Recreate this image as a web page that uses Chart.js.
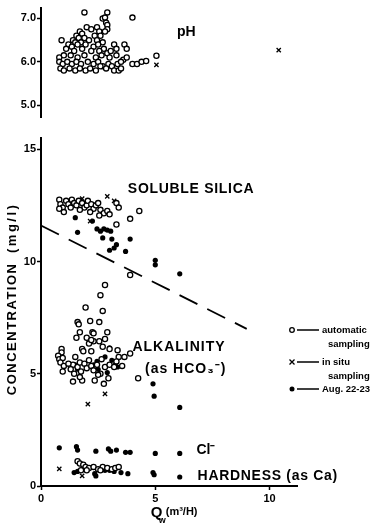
<!DOCTYPE html>
<html>
<head>
<meta charset="utf-8">
<script src="https://cdn.jsdelivr.net/npm/chart.js@4.4.1/dist/chart.umd.min.js"></script>
<style>
  body { margin: 0; background: #fff; }
  #wrap { position: relative; width: 370px; height: 525px; }
  #phChart { position: absolute; left: 0; top: 0; }
  #concChart { position: absolute; left: 0; top: 125px; }
</style>
</head>
<body>
<div id="wrap">
  <canvas id="phChart" width="370" height="125"></canvas>
  <canvas id="concChart" width="370" height="400"></canvas>
</div>
<script>
// ---- data: [Qw, value] ----
const xTicks = [0, 5, 10];
const phTicks = [5.0, 6.0, 7.0];
const concTicks = [0, 5, 10, 15];

const phAuto = [
  [1.9, 7.14], [2.9, 7.14], [4.0, 7.02], [2.7, 7.0], [2.8, 7.02], [2.85, 6.9], [2.9, 6.85], [2.9, 6.75], [2.8, 6.7],
  [2.0, 6.8], [2.2, 6.75], [2.45, 6.8], [1.7, 6.7], [1.8, 6.65], [2.55, 6.7], [1.55, 6.6], [1.65, 6.55], [1.9, 6.55],
  [2.35, 6.6], [2.6, 6.6], [1.4, 6.5], [1.5, 6.45], [1.75, 6.45], [2.1, 6.5], [2.45, 6.5], [2.7, 6.45], [0.9, 6.5],
  [1.2, 6.4], [1.35, 6.35], [1.6, 6.4], [1.95, 6.4], [2.3, 6.35], [2.5, 6.4], [2.75, 6.3], [3.2, 6.4], [3.3, 6.3],
  [3.65, 6.4], [3.75, 6.3], [1.1, 6.3], [1.45, 6.25], [1.8, 6.3], [2.2, 6.25], [2.55, 6.25], [2.9, 6.2], [3.05, 6.25],
  [0.8, 6.1], [1.0, 6.15], [1.3, 6.15], [1.6, 6.1], [1.9, 6.15], [2.4, 6.1], [2.65, 6.15], [3.0, 6.1], [3.3, 6.15],
  [3.6, 6.05], [3.75, 6.1], [0.8, 6.0], [0.95, 5.95], [1.15, 6.0], [1.35, 5.95], [1.55, 6.0], [1.75, 5.95], [2.05, 6.0],
  [2.3, 5.95], [2.5, 6.0], [2.7, 5.9], [2.95, 5.95], [3.1, 5.9], [3.35, 5.95], [3.5, 6.0], [0.85, 5.85], [1.0, 5.8],
  [1.25, 5.85], [1.5, 5.8], [1.7, 5.85], [1.95, 5.8], [2.15, 5.85], [2.4, 5.8], [2.6, 5.9], [2.85, 5.85], [3.2, 5.8],
  [3.4, 5.8], [3.5, 5.85], [4.0, 5.95], [4.2, 5.95], [4.4, 6.0], [4.6, 6.02], [5.05, 6.14]
];
const phSitu = [[5.05, 5.93], [10.4, 6.27]];

const silicaAuto = [
  [0.8, 12.75], [0.85, 12.55], [0.95, 12.4], [0.8, 12.35], [1.1, 12.7], [1.2, 12.55], [1.35, 12.75], [1.45, 12.6],
  [1.55, 12.5], [1.65, 12.7], [1.8, 12.6], [1.9, 12.4], [2.0, 12.5], [2.05, 12.7], [2.2, 12.55], [2.3, 12.35],
  [2.4, 12.5], [2.5, 12.6], [1.7, 12.3], [1.3, 12.4], [2.6, 12.3], [2.75, 12.15], [2.9, 12.25], [3.0, 12.1],
  [2.55, 12.05], [3.3, 12.6], [3.4, 12.4], [4.3, 12.25], [3.9, 11.9], [3.3, 11.65], [2.15, 12.2], [1.0, 12.2], [3.9, 9.4]
];
const silicaSitu = [[2.9, 12.9], [1.8, 12.8], [3.2, 12.7], [2.15, 11.8]];
const silicaAug = [
  [1.5, 11.95], [1.6, 11.3], [2.25, 11.8], [2.45, 11.45], [2.6, 11.35], [2.75, 11.45], [2.9, 11.4], [3.05, 11.35],
  [2.7, 11.05], [3.1, 11.0], [3.9, 11.0], [3.3, 10.75], [3.2, 10.6], [3.0, 10.5], [3.7, 10.45], [5.0, 10.05],
  [5.0, 9.85], [6.07, 9.45]
];
const silicaTrend = [[0, 11.6], [9.0, 7.0]];

const alkAuto = [
  [2.8, 8.95], [2.6, 8.5], [2.7, 7.8], [1.95, 7.95], [2.15, 7.35], [1.6, 7.3], [1.65, 7.2], [2.55, 7.3], [1.7, 6.85],
  [2.9, 6.85], [2.25, 6.85], [2.3, 6.8], [1.55, 6.6], [2.0, 6.6], [2.8, 6.55], [2.3, 6.45], [2.55, 6.45], [2.1, 6.35],
  [2.2, 6.5], [1.8, 6.1], [2.2, 6.0], [2.7, 6.2], [3.0, 6.1], [3.35, 6.05], [0.9, 6.1], [0.9, 5.95],
  [0.75, 5.8], [0.8, 5.65], [0.95, 5.7], [0.85, 5.5], [1.0, 5.35], [0.95, 5.1], [1.5, 5.75], [1.85, 6.0], [1.4, 5.4],
  [1.3, 5.2], [1.45, 5.0], [1.6, 5.3], [1.7, 5.5], [1.9, 5.45], [1.75, 5.1], [2.0, 5.25], [2.2, 5.35], [2.1, 5.6],
  [2.3, 5.15], [2.45, 5.4], [2.6, 5.0], [2.8, 5.3], [3.0, 5.4], [3.2, 5.3], [3.4, 5.75], [3.65, 5.75], [3.9, 5.9],
  [3.55, 5.35], [1.4, 4.65], [1.8, 4.7], [2.35, 4.7], [2.75, 4.55], [2.95, 4.8], [4.25, 4.8], [1.7, 4.85], [2.5, 4.95],
  [3.3, 5.55], [1.2, 5.45], [2.65, 5.65]
];
const alkSitu = [[2.8, 4.1], [2.05, 3.65]];
const alkAug = [
  [4.9, 4.55], [4.95, 4.0], [6.07, 3.5], [3.0, 6.15], [2.8, 5.75], [3.1, 5.6], [3.25, 5.4], [3.35, 5.3], [2.3, 5.4],
  [1.5, 5.4], [1.6, 5.2], [2.9, 5.05], [2.45, 5.55], [2.5, 5.2]
];

const clAug = [
  [0.8, 1.7], [1.55, 1.75], [1.6, 1.6], [2.4, 1.55], [2.95, 1.65], [3.05, 1.55], [3.3, 1.6], [3.7, 1.5], [3.9, 1.5],
  [5.0, 1.45], [6.07, 1.45]
];
const hardAuto = [
  [1.6, 1.1], [1.7, 1.0], [1.85, 0.95], [1.95, 0.85], [2.1, 0.8], [2.3, 0.85], [2.5, 0.75], [2.7, 0.85], [2.9, 0.8],
  [3.1, 0.75], [3.25, 0.8], [3.4, 0.85], [1.75, 0.7], [2.0, 0.7], [2.6, 0.7]
];
const hardSitu = [[0.8, 0.76], [1.8, 0.45]];
const hardAug = [
  [1.45, 0.6], [1.6, 0.65], [2.35, 0.55], [2.4, 0.45], [2.6, 0.7], [2.8, 0.7], [3.0, 0.7], [3.2, 0.65], [3.5, 0.6],
  [3.8, 0.55], [4.9, 0.6], [4.95, 0.5], [6.07, 0.4]
];

// ---- helpers ----
const FONT = '"Liberation Sans", Arial, sans-serif';
const toXY = (arr) => arr.map(([x, y]) => ({ x, y }));

const openStyle = { pointStyle: 'circle', pointRadius: 2.6, pointBorderWidth: 1.3, pointBorderColor: '#000', pointBackgroundColor: '#fff' };
const dotStyle = { pointStyle: 'circle', pointRadius: 2.6, pointBorderWidth: 0, pointBackgroundColor: '#000' };
const crossStyle = { pointStyle: 'crossRot', pointRadius: 3, pointBorderWidth: 1.3, pointBorderColor: '#000' };

function ds(arr, style) {
  return { type: 'scatter', data: toXY(arr), showLine: false, ...style };
}

function xScale(show) {
  const s = {
    type: 'linear',
    min: 0,
    max: 11.2,
    display: show,
    afterBuildTicks: (sc) => { sc.ticks = xTicks.map((v) => ({ value: v })); },
    grid: { drawOnChartArea: false, drawTicks: true, tickLength: 4, tickColor: '#000', tickWidth: 1.5 },
    border: { display: true, color: '#000', width: 2 },
    ticks: { color: '#000', padding: 2, font: { family: FONT, size: 11, weight: 'bold' }, maxRotation: 0 },
  };
  if (show) s.afterFit = (sc) => { sc.height = 39; };
  return s;
}

function yScale(min, max, ticks, fmt) {
  return {
    type: 'linear',
    min,
    max,
    afterBuildTicks: (s) => { s.ticks = ticks.map((v) => ({ value: v })); },
    afterFit: (s) => { s.width = 41; },
    grid: { drawOnChartArea: false, drawTicks: true, tickLength: 4, tickColor: '#000', tickWidth: 1.5 },
    border: { display: true, color: '#000', width: 2 },
    ticks: { color: '#000', padding: 1, font: { family: FONT, size: 11, weight: 'bold' }, callback: fmt },
  };
}

function text(ctx, str, x, y, size, opts = {}) {
  ctx.save();
  ctx.font = `bold ${size}px ${FONT}`;
  ctx.fillStyle = '#000';
  ctx.textAlign = opts.align || 'left';
  ctx.textBaseline = 'middle';
  ctx.letterSpacing = (opts.spacing || 0) + 'px';
  if (opts.rotate) {
    ctx.translate(x, y);
    ctx.rotate(opts.rotate);
    ctx.fillText(str, 0, 0);
  } else {
    ctx.fillText(str, x, y);
  }
  ctx.restore();
}

const common = {
  responsive: false,
  animation: false,
  plugins: { legend: { display: false }, tooltip: { enabled: false } },
};

// ---- pH panel ----
const phLabels = {
  id: 'phLabels',
  afterDraw(chart) {
    const { ctx, scales } = chart;
    text(ctx, 'pH', scales.x.getPixelForValue(5.95), scales.y.getPixelForValue(6.68), 14);
  },
};

new Chart(document.getElementById('phChart'), {
  type: 'scatter',
  data: { datasets: [ds(phAuto, openStyle), ds(phSitu, crossStyle)] },
  options: {
    ...common,
    layout: { padding: { left: 0, right: 73, top: 5, bottom: 8 } },
    scales: {
      x: xScale(false),
      y: yScale(4.73, 7.25, phTicks, (v) => v.toFixed(1)),
    },
  },
  plugins: [phLabels],
});

// ---- concentration panel ----
const concLabels = {
  id: 'concLabels',
  afterDraw(chart) {
    const { ctx, scales } = chart;
    const X = (v) => scales.x.getPixelForValue(v);
    const Y = (v) => scales.y.getPixelForValue(v);

    text(ctx, 'SOLUBLE SILICA', X(3.8), Y(13.2), 14, { spacing: 0.7 });
    text(ctx, 'ALKALINITY', X(4.0), Y(6.2), 14, { spacing: 1 });
    text(ctx, '(as HCO\u2083\u207B)', X(4.55), Y(5.2), 14, { spacing: 1 });
    text(ctx, 'Cl\u207B', X(6.8), Y(1.6), 14);
    text(ctx, 'HARDNESS (as Ca)', X(6.85), Y(0.45), 14, { spacing: 0.7 });

    // axis titles
    text(ctx, 'CONCENTRATION', 12, Y(7.0), 13, { align: 'center', spacing: 1.5, rotate: -Math.PI / 2 });
    text(ctx, '(mg/l)', 12, Y(11.5), 13, { align: 'center', spacing: 2.5, rotate: -Math.PI / 2 });
    const qx = X(4.8);
    const qy = chart.chartArea.bottom + 27;
    text(ctx, 'Q', qx, qy, 15);
    text(ctx, 'w', qx + 8, qy + 8, 9);
    text(ctx, '(m\u00B3/H)', qx + 15, qy - 1, 11);

    // legend
    const lx = 292;
    const rows = [
      { y: 205, kind: 'open', lines: ['automatic', 'sampling'] },
      { y: 237, kind: 'cross', lines: ['in situ', 'sampling'] },
      { y: 264, kind: 'dot', lines: ['Aug. 22-23'] },
    ];
    ctx.save();
    ctx.strokeStyle = '#000';
    ctx.fillStyle = '#000';
    rows.forEach((r) => {
      ctx.lineWidth = 1.3;
      if (r.kind === 'open') {
        ctx.beginPath(); ctx.arc(lx, r.y, 2.3, 0, Math.PI * 2); ctx.stroke();
      } else if (r.kind === 'dot') {
        ctx.beginPath(); ctx.arc(lx, r.y, 2.5, 0, Math.PI * 2); ctx.fill();
      } else {
        ctx.beginPath();
        ctx.moveTo(lx - 2.5, r.y - 2.5); ctx.lineTo(lx + 2.5, r.y + 2.5);
        ctx.moveTo(lx + 2.5, r.y - 2.5); ctx.lineTo(lx - 2.5, r.y + 2.5);
        ctx.stroke();
      }
      ctx.lineWidth = 1.5;
      ctx.beginPath(); ctx.moveTo(lx + 5, r.y); ctx.lineTo(lx + 27, r.y); ctx.stroke();
      r.lines.forEach((t, i) => {
        text(ctx, t, i === 0 ? lx + 30 : lx + 36, r.y + i * 14, 9.5);
      });
    });
    ctx.restore();
  },
};

new Chart(document.getElementById('concChart'), {
  type: 'scatter',
  data: {
    datasets: [
      {
        type: 'line', data: toXY(silicaTrend), borderColor: '#000', borderWidth: 1.8,
        borderDash: [20, 11], pointRadius: 0, fill: false,
      },
      ds(silicaAuto, openStyle), ds(silicaSitu, crossStyle), ds(silicaAug, dotStyle),
      ds(alkAuto, openStyle), ds(alkSitu, crossStyle), ds(alkAug, dotStyle),
      ds(clAug, dotStyle),
      ds(hardAuto, openStyle), ds(hardSitu, crossStyle), ds(hardAug, dotStyle),
    ],
  },
  options: {
    ...common,
    layout: { padding: { left: 0, right: 73, top: 13, bottom: 0 } },
    scales: {
      x: xScale(true),
      y: yScale(0, 15.5, concTicks, (v) => String(v)),
    },
  },
  plugins: [concLabels],
});
</script>
</body>
</html>
